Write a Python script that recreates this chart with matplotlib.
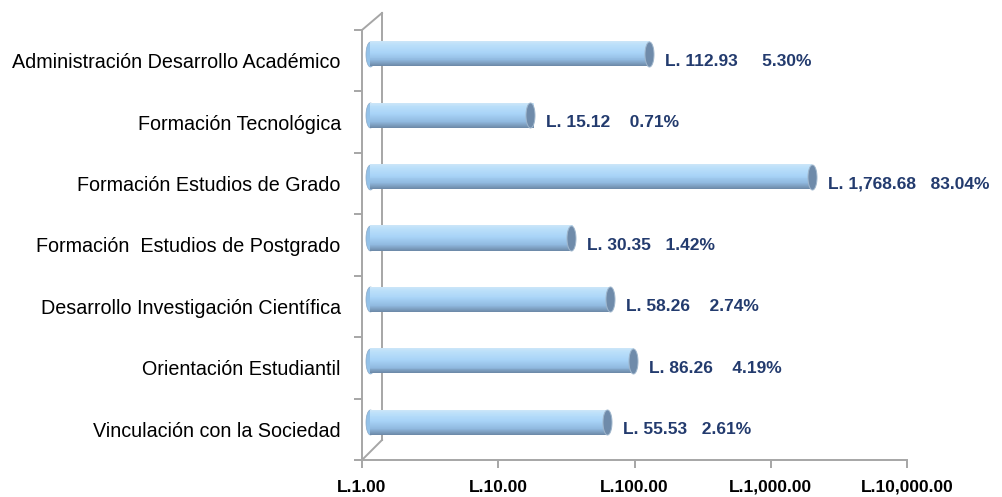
import numpy as np
import matplotlib
matplotlib.use("Agg")
import matplotlib.pyplot as plt
from matplotlib.lines import Line2D
from matplotlib.path import Path
from matplotlib.transforms import IdentityTransform
from matplotlib.ticker import FixedLocator, NullFormatter

categories = [
    "Administración Desarrollo Académico",
    "Formación Tecnológica",
    "Formación Estudios de Grado",
    "Formación  Estudios de Postgrado",
    "Desarrollo Investigación Científica",
    "Orientación Estudiantil",
    "Vinculación con la Sociedad",
]
values = [112.93, 15.12, 1768.68, 30.35, 58.26, 86.26, 55.53]
bar_labels = [
    "L. 112.93     5.30%",
    "L. 15.12    0.71%",
    "L. 1,768.68   83.04%",
    "L. 30.35   1.42%",
    "L. 58.26    2.74%",
    "L. 86.26    4.19%",
    "L. 55.53   2.61%",
]
xticks = [1, 10, 100, 1000, 10000]
xtick_labels = ["L.1.00", "L.10.00", "L.100.00", "L.1,000.00", "L.10,000.00"]

FONT = ["Liberation Sans", "DejaVu Sans"]

W, H = 1002, 497
fig = plt.figure(figsize=(W / 100, H / 100), dpi=100)
fig.patch.set_facecolor("white")

wall = "#A6A6A6"

x0, x1 = 362, 907
ytop, ybot = 30, 460
rect = [x0 / W, (H - ybot) / H, (x1 - x0) / W, (ybot - ytop) / H]
ax = fig.add_axes(rect)
n = len(categories)
ypos = np.arange(n)
ax.set_xscale("log")
ax.set_xlim(1, 10000)
ax.set_ylim(n - 0.5, -0.5)
ax.set_facecolor("none")
for s in ["top", "right"]:
    ax.spines[s].set_visible(False)
for s in ["left", "bottom"]:
    ax.spines[s].set_color(wall)
    ax.spines[s].set_linewidth(1.4)
ax.set_xticks(xticks)
ax.set_xticklabels(xtick_labels, fontfamily=FONT, fontweight="bold", fontsize=12.5)
ax.xaxis.set_minor_locator(FixedLocator([]))
ax.tick_params(axis="x", which="major", length=6, color=wall, width=1.4, pad=8.4)
ax.set_yticks(ypos)
ax.set_yticklabels(categories, fontfamily=FONT, fontsize=14.2)
ax.tick_params(axis="y", which="major", length=0, pad=15.3)
ax.yaxis.set_minor_locator(FixedLocator(np.arange(-0.5, n, 1.0)))
ax.yaxis.set_minor_formatter(NullFormatter())
ax.tick_params(axis="y", which="minor", length=6, color=wall, width=1.4)

# back wall lines (3D frame)
dx, dy = 20, 20
lines = [
    ([x0 + dx, x0 + dx], [H - ybot + dy, H - ytop + 17]),
    ([x0, x0 + dx], [H - ytop, H - ytop + 17]),
    ([x0, x0 + dx], [H - ybot, H - ybot + dy]),
]
for xs, ys in lines:
    fig.add_artist(Line2D(xs, ys, transform=IdentityTransform(), color=wall, lw=1.4, zorder=0))

# bars axes, shifted in depth
bx, by = 7.5, 7
ax2 = fig.add_axes([rect[0] + bx / W, rect[1] + by / H, rect[2], rect[3]])
ax2.set_xscale("log")
ax2.set_xlim(1, 10000)
ax2.set_ylim(n - 0.5, -0.5)
ax2.axis("off")

bar_h = 25 / ((ybot - ytop) / n)
nstrip = 26
stops = [(0.0, (0.80, 0.90, 0.97)), (0.12, (0.74, 0.88, 0.98)), (0.45, (0.66, 0.83, 0.97)),
         (0.75, (0.57, 0.73, 0.88)), (1.0, (0.42, 0.53, 0.65))]
def grad(t):
    for (t0, c0), (t1, c1) in zip(stops[:-1], stops[1:]):
        if t <= t1:
            f = (t - t0) / (t1 - t0)
            return tuple(np.array(c0) + (np.array(c1) - np.array(c0)) * f)
    return stops[-1][1]
for k in range(nstrip):
    t = (k + 0.5) / nstrip
    off = -bar_h / 2 + (k + 0.5) * bar_h / nstrip
    ax2.barh(ypos + off, values, height=bar_h / nstrip * 1.05, left=1,
             color=grad(t), edgecolor="none", zorder=2)

px_h = bar_h * (ybot - ytop) / n
ms = px_h * 72 / 100
theta = np.linspace(0, 2 * np.pi, 60)
ratio = 0.36
ell = Path(np.column_stack([ratio * 0.5 * np.cos(theta), 0.5 * np.sin(theta)]))
ax2.plot(np.ones(n), ypos, linestyle="none", marker=ell, markersize=ms,
         markerfacecolor="#93C1E8", markeredgecolor="#8AA9C6", markeredgewidth=0.5,
         zorder=1, clip_on=False)
ax2.plot(values, ypos, linestyle="none", marker=ell, markersize=ms,
         markerfacecolor="#6F8BAA", markeredgecolor="#9FB6CC", markeredgewidth=0.7,
         zorder=3, clip_on=False)

navy = "#233B6E"
for i, v in enumerate(values):
    ax2.annotate(bar_labels[i], (v, i), xytext=(11.5, -8.6),
                 textcoords="offset points", va="baseline", ha="left",
                 fontfamily=FONT, fontweight="bold", fontsize=12.5, color=navy)

fig.savefig("out.png", dpi=100, facecolor="white")
